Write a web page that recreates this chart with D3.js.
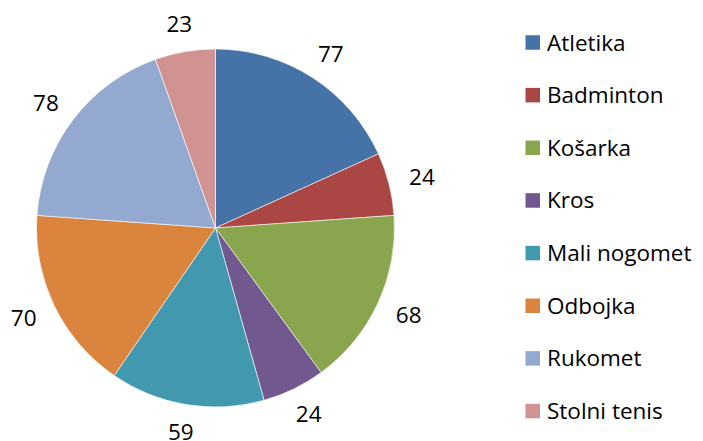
<!DOCTYPE html>
<html><head><meta charset="utf-8">
<script src="https://cdn.jsdelivr.net/npm/d3@7"></script>
<style>body{margin:0;background:#fff}svg{display:block}</style>
</head><body><svg id="c" width="703" height="441"></svg>
<script>
const categories = ["Atletika","Badminton","Košarka","Kros","Mali nogomet","Odbojka","Rukomet","Stolni tenis"];
const values = [77,24,68,24,59,70,78,23];
const colors = ["#4572A7","#AA4643","#89A54E","#71588F","#4198AF","#DB843D","#93A9CF","#D19392"];

const svg = d3.select("#c");
const cx = 215.5, cy = 228, r = 179, lrx = 213, lry = 207;
const font = "'Open Sans', sans-serif";
const fs = 22.5;
const data = categories.map((c,i)=>({c, v: values[i], col: colors[i]}));
const pie = d3.pie().value(d=>d.v).sort(null);
const arcs = pie(data);
const arc = d3.arc().innerRadius(0).outerRadius(r);
const g = svg.append("g").attr("transform",`translate(${cx},${cy})`);
g.selectAll("path").data(arcs).join("path")
  .attr("d",arc).attr("fill",d=>d.data.col)
  .attr("stroke","#fff").attr("stroke-width",0.6);
g.selectAll("text").data(arcs).join("text")
  .attr("x",d=>{const a=(d.startAngle+d.endAngle)/2; return lrx*Math.sin(a);})
  .attr("y",d=>{const a=(d.startAngle+d.endAngle)/2; return -lry*Math.cos(a)+8;})
  .attr("text-anchor","middle")
  .attr("font-family",font).attr("font-size",fs).attr("fill","#000")
  .text(d=>d.data.v);

const leg = svg.append("g");
const rows = leg.selectAll("g").data(data).join("g")
  .attr("transform",(d,i)=>`translate(525.5,${42.5+i*52.65})`);
rows.append("rect").attr("x",0).attr("y",-7.25).attr("width",14.5).attr("height",14.5).attr("fill",d=>d.col);
rows.append("text").attr("x",21.5).attr("y",8)
  .attr("font-family",font).attr("font-size",fs).attr("fill","#000").text(d=>d.c);
</script></body></html>
